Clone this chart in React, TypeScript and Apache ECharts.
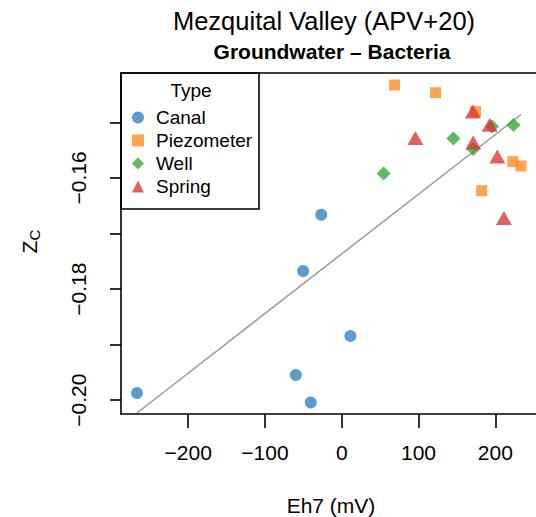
import React, { useEffect, useRef } from 'react';
import * as echarts from 'echarts';

const categories = ['Canal', 'Piezometer', 'Well', 'Spring'];
const canalX = [-266.7, -50.3, -59.8, -40.4, 11.2, -26.7];
const canalY = [-0.1987, -0.17675, -0.19547, -0.2004, -0.18845, -0.16661];
const piezoX = [68.8, 122.2, 174.2, 222.8, 233.5, 182.3];
const piezoY = [-0.14327, -0.14465, -0.14802, -0.15707, -0.15785, -0.16229];
const wellX = [54.6, 145.4, 171.2, 195.7, 223.7];
const wellY = [-0.15918, -0.15288, -0.15479, -0.15072, -0.15047];
const springX = [170.8, 192.7, 95.9, 171.2, 202.6, 211.2];
const springY = [-0.14802, -0.15041, -0.15281, -0.1536, -0.15612, -0.16721];
const fitIntercept = -0.17366;
const fitSlope = 1.074e-4;
const xTicks = [-200, -100, 0, 100, 200];
const yTicks = [-0.2, -0.19, -0.18, -0.17, -0.16, -0.15];
const yLabels = [-0.2, -0.18, -0.16];

const FONT = '"Liberation Sans", Arial, Helvetica, sans-serif';
const zip = (xs: number[], ys: number[]) => xs.map((x, i) => [x, ys[i]]);
const minus = (s: string) => s.replace('-', '\u2212');

export default function App() {
  const ref = useRef<HTMLDivElement>(null);
  useEffect(() => {
    document.body.style.margin = '0';
    const chart = echarts.init(ref.current!, undefined, { renderer: 'svg' });
    const allX = [...canalX, ...piezoX, ...wellX, ...springX];
    const xMin = Math.min(...allX);
    const xMax = Math.max(...allX);
    const fit = [
      [xMin, fitIntercept + fitSlope * xMin],
      [xMax, fitIntercept + fitSlope * xMax],
    ];
    const axisLine = { show: true, onZero: false, lineStyle: { color: '#000', width: 1.6 } };
    chart.setOption({
      animation: false,
      backgroundColor: '#fff',
      textStyle: { fontFamily: FONT },
      grid: { left: 121, top: 73, width: 419, height: 341 },
      xAxis: [
        {
          type: 'value', position: 'bottom', min: -287.5, max: 253,
          axisLine,
          axisTick: { show: true, customValues: xTicks, length: 14, lineStyle: { color: '#000', width: 1.6 } },
          axisLabel: { customValues: xTicks, fontSize: 21, color: '#000', margin: 28, fontFamily: FONT, formatter: (v: number) => minus(String(v)) },
          splitLine: { show: false },
        },
        {
          type: 'value', position: 'top', min: -287.5, max: 253,
          axisLine, axisTick: { show: false }, axisLabel: { show: false }, splitLine: { show: false },
        },
      ],
      yAxis: {
        type: 'value', min: -0.20248, max: -0.14111,
        axisLine,
        axisTick: { show: true, customValues: yTicks, length: 11, lineStyle: { color: '#000', width: 1.6 } },
        axisLabel: { customValues: yLabels, rotate: 90, fontSize: 21, color: '#000', margin: 32, fontFamily: FONT, formatter: (v: number) => minus(v.toFixed(2)) },
        splitLine: { show: false },
      },
      legend: {
        orient: 'vertical', left: 132, top: 108, padding: 0, itemGap: 4,
        itemWidth: 12, itemHeight: 12,
        data: categories,
        textStyle: { fontSize: 19, color: '#000', fontFamily: FONT, padding: [0, 0, 0, 7] },
      },
      series: [
        {
          type: 'line', data: fit, symbol: 'none', silent: true, z: 1,
          lineStyle: { color: '#9a9a9a', width: 1.5 },
        },
        { name: 'Canal', type: 'scatter', data: zip(canalX, canalY), symbol: 'circle', symbolSize: 12, itemStyle: { color: '#2f7fbf', opacity: 0.78 }, z: 3 },
        { name: 'Piezometer', type: 'scatter', data: zip(piezoX, piezoY), symbol: 'rect', symbolSize: 11, itemStyle: { color: '#ff8a1f', opacity: 0.78 }, z: 3 },
        { name: 'Well', type: 'scatter', data: zip(wellX, wellY), symbol: 'diamond', symbolSize: 14, itemStyle: { color: '#35a535', opacity: 0.78 }, z: 3 },
        { name: 'Spring', type: 'scatter', data: zip(springX, springY), symbol: 'triangle', symbolSize: [16, 14], itemStyle: { color: '#d83535', opacity: 0.78 }, z: 3 },
      ],
      graphic: [
        { type: 'rect', shape: { x: 121, y: 73, width: 138, height: 136 }, style: { fill: 'none', stroke: '#000', lineWidth: 1.6 }, z: 10 },
        { type: 'text', x: 191, y: 90, style: { text: 'Type', fontSize: 19, fontFamily: FONT, fill: '#000', align: 'center', verticalAlign: 'middle' }, z: 10 },
        { type: 'text', x: 324, y: 21, style: { text: 'Mezquital Valley (APV+20)', fontSize: 25.5, fontFamily: FONT, fill: '#000', align: 'center', verticalAlign: 'middle' } },
        { type: 'text', x: 332, y: 51, style: { text: 'Groundwater \u2013 Bacteria', fontSize: 21, fontWeight: 'bold', fontFamily: FONT, fill: '#000', align: 'center', verticalAlign: 'middle' } },
        { type: 'text', x: 331, y: 505, style: { text: 'Eh7 (mV)', fontSize: 21, fontFamily: FONT, fill: '#000', align: 'center', verticalAlign: 'middle' } },
        {
          type: 'group', x: 29, y: 243, rotation: Math.PI / 2,
          children: [
            { type: 'text', x: -4, y: 0, style: { text: 'Z', fontSize: 21, fontFamily: FONT, fill: '#000', align: 'center', verticalAlign: 'middle' } },
            { type: 'text', x: 8, y: 5, style: { text: 'C', fontSize: 15, fontFamily: FONT, fill: '#000', align: 'center', verticalAlign: 'middle' } },
          ],
        },
      ],
    });
    return () => chart.dispose();
  }, []);
  return <div ref={ref} style={{ position: 'fixed', left: 0, top: 0, width: 536, height: 517, overflow: 'hidden' }} />;
}
